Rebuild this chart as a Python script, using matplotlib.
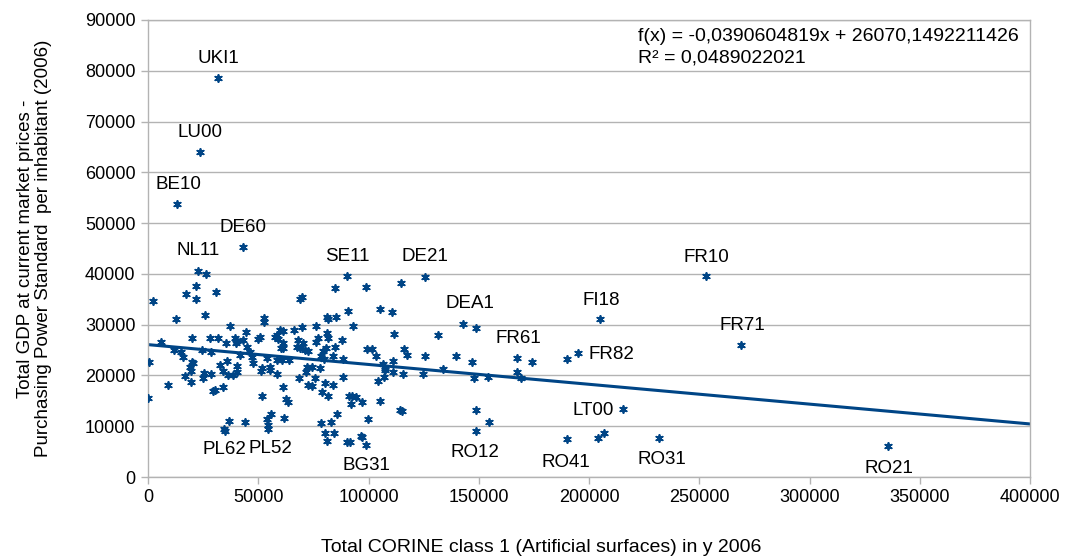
import matplotlib
matplotlib.use("Agg")
import matplotlib.pyplot as plt
import numpy as np

plt.rcParams["font.family"] = ["Liberation Sans", "DejaVu Sans"]

BLUE = "#004586"
GRID = "#b3b3b3"

# Total CORINE class 1 (artificial surfaces), 2006
corine = [
    31880, 23720, 13290, 43220, 22810, 26170, 90380, 125760, 114600, 98860,
    84800, 253040, 268920, 335580, 205120, 194870, 215280, 189880, 167480, 174010,
    167480, 169020, 142990, 148750, 139680, 146800, 133650, 147840, 154050, 148610,
    154780, 148610, 189880, 203940, 206660, 231870, 131650, 125480, 105210, 110520,
    92830, 111690, 99180, 101720, 103400, 116100, 117590, 106440, 110970, 107480,
    104170, 107030, 107480, 111250, 115500, 124570, 92380, 94190, 92060, 96910,
    105210, 114280, 115050, 99910, 96600, 97180, 98860, 91610, 51250, 55330,
    58360, 61090, 51560, 62450, 63350, 43990, 55780, 53830, 54280, 54280,
    61810, 68620, 71650, 72700, 74240, 75730, 80270, 84030, 78770, 81770,
    88300, 91290, 78460, 82990, 85850, 80270, 84350, 81310, 90110, 0,
    9210, 16780, 19500, 19360, 24810, 25530, 28570, 29340, 30380, 34150,
    36870, 34600, 34920, 34150, 36140, 38680, 40220, 2400, 17100, 21630,
    21630, 30840, 12700, 25850, 37190, 5760, 19820, 28120, 31880, 35370,
    39450, 40220, 39770, 11930, 14970, 15740, 19820, 20270, 19050, 24350,
    28430, 32650, 35960, 40220, 41720, 450, 68930, 69700, 52610, 52610,
    81040, 81770, 85260, 90560, 76190, 44440, 50790, 50020, 58360, 57590,
    59090, 61090, 66350, 69700, 61360, 60320, 61360, 68160, 70430, 68930,
    71200, 67440, 72700, 76190, 76960, 81040, 81770, 87840, 80720, 79500,
    84800, 84030, 88570, 78460, 79950, 44760, 46260, 47030, 47750, 53830,
    58360, 60630, 63940, 51560, 55330, 71970, 74240, 78000, 43200, 59860,
]

# GDP in PPS per inhabitant, 2006
gdp = [
    78560, 63930, 53810, 45230, 40620, 39970, 39640, 39320, 38260, 37350,
    37160, 39580, 25990, 6100, 31110, 24360, 13330, 23170, 23490, 22700,
    20730, 19430, 30130, 29280, 23880, 22580, 21210, 19550, 19750, 13190,
    10770, 9120, 7420, 7740, 8600, 7740, 27900, 23830, 33020, 32430,
    29730, 28160, 25140, 25140, 23830, 25200, 24020, 22250, 22840, 21520,
    18900, 19750, 21070, 20730, 20280, 20220, 16010, 15810, 14310, 14830,
    14960, 13190, 13000, 11420, 8130, 7940, 6300, 6950, 20870, 21070,
    20220, 17660, 15950, 15300, 14830, 10890, 12350, 11360, 10240, 9390,
    11680, 19550, 20730, 18110, 17980, 19430, 18450, 18110, 16800, 16010,
    19750, 15950, 10570, 10770, 12350, 8600, 8600, 7090, 6830, 15610,
    18110, 19950, 18650, 20870, 19430, 20540, 20220, 16930, 17130, 17780,
    11030, 9390, 9060, 20870, 20080, 20080, 20730, 34650, 36030, 37670,
    34990, 36490, 31050, 31900, 29790, 26640, 27310, 27310, 27310, 26440,
    27310, 26780, 26330, 25010, 24670, 23690, 22700, 22390, 21600, 25010,
    24670, 22050, 22840, 21860, 24020, 22700, 34990, 35500, 31250, 30580,
    31560, 31050, 31560, 32750, 29790, 28610, 27620, 27110, 27960, 27510,
    27110, 28810, 28940, 29480, 26330, 25340, 25340, 26980, 26330, 25340,
    25010, 25660, 24870, 26640, 27310, 28410, 27310, 26980, 25340, 24810,
    25660, 23830, 23230, 23830, 23230, 25660, 24670, 23690, 22390, 23370,
    23040, 23040, 23040, 21400, 21600, 21600, 21600, 21400, 27000, 28940,
]

# region labels and where their text sits
label_names = ["UKI1", "LU00", "BE10", "DE60", "NL11", "SE11", "DE21", "DEA1",
               "FR61", "FI18", "FR82", "FR10", "FR71", "LT00", "PL62", "PL52",
               "BG31", "RO12", "RO41", "RO31", "RO21"]
label_x = [31745, 23580, 13600, 43080, 22680, 90250, 125620, 146030,
           167800, 205440, 209970, 253040, 269370, 201810, 34470, 55330,
           98860, 148290, 189560, 233100, 336050]
label_y = [82500, 67930, 57690, 49230, 44700, 43510, 43510, 34260,
           27370, 34850, 24220, 43320, 29930, 13190, 5320, 5710,
           2170, 4920, 2950, 3350, 1770]

# linear trend line reported by the spreadsheet
slope = -0.0390604819
intercept = 26070.1492211426

fig = plt.figure(figsize=(10.66, 5.57), dpi=100)
ax = fig.add_axes([148 / 1066, 1 - 477 / 557, 882 / 1066, 457 / 557])

ax.scatter(corine, gdp, marker=(6, 2, 0), s=26, color=BLUE, linewidths=1.3, zorder=3)

xs = np.array([0, 400000])
ax.plot(xs, slope * xs + intercept, color=BLUE, linewidth=2.2, zorder=2)

for name, x, y in zip(label_names, label_x, label_y):
    ax.text(x, y, name, ha="center", va="center", fontsize=13.5, color="black")

ax.text(0.556, 0.982, "f(x) = -0,0390604819x + 26070,1492211426\nR² = 0,0489022021",
        transform=ax.transAxes, ha="left", va="top", fontsize=14, linespacing=1.3)

ax.set_xlim(0, 400000)
ax.set_ylim(0, 90000)
ax.set_xticks(np.arange(0, 400001, 50000))
ax.set_yticks(np.arange(0, 90001, 10000))
ax.tick_params(axis="both", labelsize=13, colors=GRID, labelcolor="black",
               length=5, width=1, pad=4)
ax.yaxis.grid(True, color=GRID, linewidth=1)
ax.set_axisbelow(True)
for s in ax.spines.values():
    s.set_color(GRID)
    s.set_linewidth(1)

ax.set_xlabel("Total CORINE class 1 (Artificial surfaces) in y 2006", fontsize=14)
ax.xaxis.set_label_coords(0.4456, -0.135)
ax.set_ylabel("Total GDP at current market prices -\nPurchasing Power Standard  per inhabitant (2006)",
              fontsize=13.5, labelpad=24, linespacing=1.05)

fig.savefig("out.png", dpi=100)
